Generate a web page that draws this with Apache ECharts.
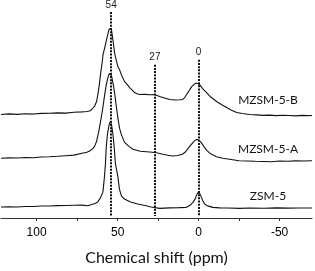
<!DOCTYPE html>
<html><head><meta charset="utf-8">
<script src="https://cdn.jsdelivr.net/npm/echarts@6/dist/echarts.min.js"></script>
<style>html,body{margin:0;padding:0;background:#fff}#c{width:315px;height:271px}</style>
</head><body><div id="c"></div>
<script>
// Chemical shift (ppm) and stacked intensities (arbitrary units, offset traces)
var seriesNames = ['MZSM-5-B', 'MZSM-5-A', 'ZSM-5'];

var mzsmB = [
  [122,104],[117,104.6],[112,104.1],[107,104.8],[102,104.4],[97,105.1],[92,105.3],[87,105.6],
  [82,105.4],[77,106.2],[72,106.6],[69,107],[67.3,107.5],[66,109],[64.2,112.3],[63,117],
  [62.2,124],[61.3,134],[60.5,145],[59.5,157],[59,164],[58,171],[57,178],[56,185],[55.2,190],
  [54.5,192],[53.8,189],[53,180],[52.5,174],[51.9,166],[50.8,158],[49.8,152],[48.8,149],
  [47.5,143],[45.7,137],[44,134],[42.6,131],[41,128.5],[39.5,126],[38,124.8],[36.4,124],
  [33,124.2],[30,123.8],[27.2,124],[24.1,122],[21,120.5],[17.9,119],[14,118.6],[11.5,118.8],
  [9.9,119],[8.6,121],[7.4,124],[5.8,128],[4.3,132],[2.6,134.5],[1.2,135.5],[-0.6,134],
  [-2.5,130],[-4.9,126],[-7.5,121.5],[-11.1,117],[-14,114],[-17.3,111],[-20,108.5],
  [-23.5,106],[-27,105],[-31.5,104],[-36,103.6],[-40,103.1],[-43.8,103.3],[-48,102.8],
  [-52,103.2],[-56,103],[-60,102.6],[-64,103.1],[-67,102.8],[-70,103]
];

var mzsmA = [
  [122,60],[117,60.4],[112,60.2],[107,60.8],[102,60.6],[97,61.3],[92,61.6],[87,62],
  [82,62.6],[77,63.2],[72,65],[69,66],[67.3,67.3],[65.5,69.5],[64.2,72],[63,77],[61.5,88],
  [60,102],[59,112],[58,124],[57,134],[56,141],[55.2,145],[54.5,146],[53.8,143],[52.8,135],
  [51.9,126],[50.8,112],[49.8,100],[48.8,90],[47.5,83],[45.7,76],[43,72],[40.5,69],
  [36,67],[30.2,66.3],[26,65.5],[22,64],[19,63],[16,62.3],[13,62.8],[10,64],[8,66.5],
  [6.5,70],[5,73],[4,75],[2.6,77.5],[1.2,79],[-0.2,78.2],[-1.5,76],[-3.2,72],[-5,68],
  [-7.5,64.5],[-11,61.5],[-15,60],[-19,59],[-25,57.5],[-30,57.3],[-35,57],[-40,56.8],
  [-45,56.5],[-50,57.2],[-55,57],[-60,57.4],[-65,57.2],[-70,57.5]
];

var zsm5 = [
  [122,11],[117,11.3],[112,11.1],[107,11.6],[102,11.5],[97,12],[92,12.1],[87,12.4],
  [82,12.6],[77,12.8],[72,12.9],[68.4,12.3],[66,13.5],[64,14.5],[62.3,16],[60.7,20],
  [59.1,26],[58.7,32],[58.1,42],[57.5,55],[57.1,69],[56.3,84],[55.2,94],[54.5,97],
  [53.8,94],[52.9,84],[52,69],[51.4,55],[49.9,42],[48.9,29],[47.6,22],[45.8,19],[42,16],
  [37.6,14],[33,12.5],[29.3,11],[24.1,9.7],[18,10.2],[12,10.4],[7.6,10.7],[5.5,12.5],
  [3.5,15.7],[2.2,19],[1.4,22.3],[0.5,25.5],[-0.2,26.7],[-0.9,24],[-1.7,20.7],[-2.7,17],
  [-3.7,14],[-5.5,12.2],[-8.8,10.7],[-13,10.2],[-18,10],[-25.3,9.7],[-32,10.1],[-40,9.8],
  [-48,10.2],[-55,9.9],[-62,10.1],[-70,10]
];

// reference lines: position (ppm), label, top of line (intensity units)
var markerPpm = [54, 27, 0];
var markerLabels = ['54', '27', '0'];
var markerTop = [207, 154, 159];

var xTicks = [100, 75, 50, 25, 0, -25, -50];
var xLabels = [100, 50, 0, -50];

var chart = echarts.init(document.getElementById('c'), null, {renderer: 'canvas'});

var lineStyle = {color: '#111', width: 1.1};
var series = [mzsmB, mzsmA, zsm5].map(function (d, i) {
  return {
    type: 'line', name: seriesNames[i], data: d, showSymbol: false, symbol: 'none',
    lineStyle: lineStyle, smooth: false, animation: false, silent: true, z: 3
  };
});

series.push({
  type: 'line', data: [], silent: true, animation: false,
  markLine: {
    symbol: ['none', 'none'], silent: true, animation: false,
    lineStyle: {color: '#111', width: 2, type: [2, 1.2]},
    label: {show: true, position: 'start', distance: 2, color: '#222', fontSize: 10,
            fontFamily: 'Liberation Sans, Arial, sans-serif'},
    data: markerPpm.map(function (p, i) {
      return [
        {coord: [p, markerTop[i]], label: {formatter: markerLabels[i]}},
        {coord: [p, 2]}
      ];
    })
  }
});

chart.setOption({
  animation: false,
  grid: {left: 1, right: 3, top: 0, bottom: 52, containLabel: false},
  xAxis: {
    type: 'value', inverse: true, min: -70, max: 122,
    name: 'Chemical shift (ppm)', nameLocation: 'middle', nameGap: 32,
    nameTextStyle: {fontFamily: 'Lato, Carlito, sans-serif', fontSize: 16, color: '#111'},
    axisLine: {show: true, lineStyle: {color: '#333', width: 1}},
    axisTick: {show: true, customValues: xTicks, length: 3, inside: false,
               lineStyle: {color: '#333', width: 1}},
    axisLabel: {show: true, customValues: xLabels, margin: 9, fontSize: 12,
                fontFamily: 'Liberation Sans, Arial, sans-serif', color: '#000'},
    splitLine: {show: false}
  },
  yAxis: {
    type: 'value', min: 0, max: 219, show: false, splitLine: {show: false}
  },
  graphic: seriesNames.map(function (n, i) {
    var ys = [100, 149, 196];
    return {
      type: 'text', silent: true,
      style: {text: n, x: 268, y: ys[i], align: 'center', verticalAlign: 'middle',
              font: '12px Lato, Carlito, sans-serif', fill: '#111'}
    };
  }),
  series: series
});
</script>
</body></html>
